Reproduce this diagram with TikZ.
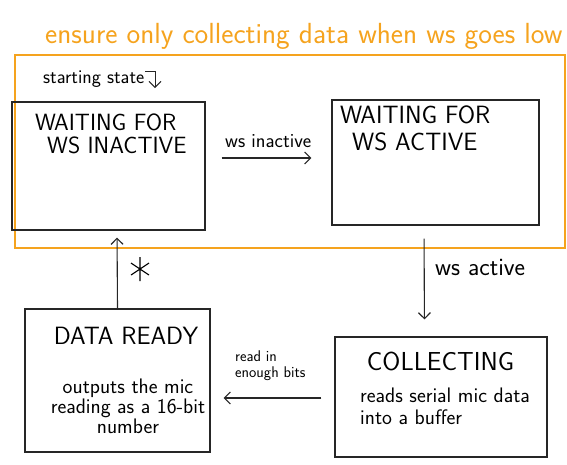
\documentclass[tikz,border=0pt]{standalone}
\usepackage{tikz}
\usetikzlibrary{arrows.meta}
\definecolor{markorange}{RGB}{245,163,30}
\tikzset{
  state/.style={draw=black!85, line width=1.2pt, rectangle, inner sep=0pt},
  hand/.style 2 args={font=\sffamily\fontsize{#1}{#2}\selectfont, inner sep=0pt},
  arr/.style={draw=black!85, line width=1.1pt, -{Straight Barb[length=6pt,width=12pt]}},
}

\begin{document}
\begin{tikzpicture}[x=1pt, y=-1pt]
\useasboundingbox (0,0) rectangle (567,464);

% orange group round the two waiting states
\node[hand={29.1}{32}, text=markorange, anchor=base west] (title) at (45,43) {ensure only collecting data when ws goes low};
\draw[markorange, line width=1.4pt] (15,55) rectangle (565,248);

% states
\node[state, minimum width=193pt, minimum height=128pt] (inactive) at (108.5,166) {};
\node[state, minimum width=207pt, minimum height=125pt] (active) at (435.5,162.5) {};
\node[state, minimum width=212pt, minimum height=120pt] (collecting) at (441,397) {};
\node[state, minimum width=185pt, minimum height=143pt] (ready) at (117.5,380.5) {};

\node[hand={23.5}{23}, align=left, anchor=north west] (inactivetxt) at (35,113.5) {WAITING FOR\\\hspace{12pt}WS INACTIVE};
\node[hand={25}{27}, align=left, anchor=north west] (activetxt) at (340,106) {WAITING FOR\\\hspace{12pt}WS ACTIVE};
\node[hand={26}{28}, anchor=north] (collectingtxt) at (440.5,352) {COLLECTING};
\node[hand={21}{22}, align=left, anchor=north west] (collectingsub) at (360,388) {reads serial mic data\\into a buffer};
\node[hand={25}{28}, anchor=north] (readytxt) at (126,327) {DATA READY};
\node[hand={21}{20}, align=center, anchor=north] (readysub) at (128,378.5) {outputs the mic\\reading as a 16-bit\\number};

% start marker
\node[hand={19.5}{20}, anchor=base west, inner sep=1pt] (start) at (42,83) {starting state};
\coordinate (startend) at (155,88);
\draw[arr, line width=0.9pt] ([yshift=7pt]start.east) -| (startend);

% transitions
\draw[arr, shorten <=16pt, shorten >=20pt] ([yshift=8pt]inactive.east) -- ([yshift=4.5pt]active.west);
\node[hand={20}{20}, anchor=base west] (wsinactive) at (225,147) {ws inactive};

\draw[arr, shorten <=13pt, shorten >=17pt] ([xshift=-11.5pt]active.south) -- ([xshift=-16.5pt]collecting.north);
\node[hand={25}{26}, anchor=base west] (wsactive) at (435,275) {ws active};

\draw[arr, shorten <=13pt, shorten >=13pt] ([yshift=-1pt]collecting.west) -- ([yshift=-17.5pt]ready.east);
\node[hand={15.5}{16}, align=left, anchor=north west] (enough) at (235,351) {read in\\enough bits};

\draw[arr, shorten >=7pt] (ready.north) -- ([xshift=8.5pt]inactive.south);
% asterisk beside the return arrow
\coordinate (star) at (140,269);
\draw[line width=1.1pt] (star) +(0,-12) -- +(0,12)
  (star) +(-9,-6) -- +(9,6)
  (star) +(-9,6) -- +(9,-6);

\end{tikzpicture}
\end{document}
